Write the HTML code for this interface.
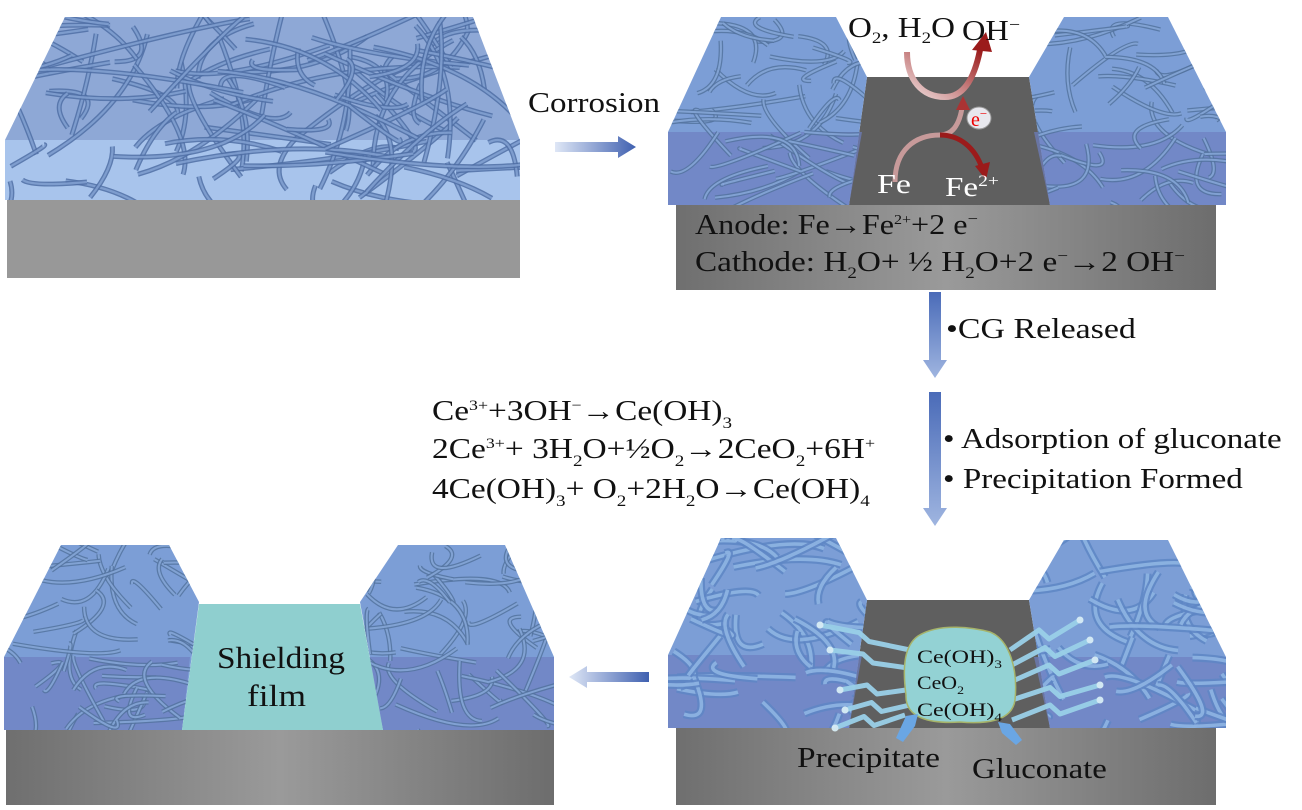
<!DOCTYPE html>
<html><head><meta charset="utf-8"><style>
html,body{margin:0;padding:0;background:#fff;}
svg{display:block;}
text{font-family:"Liberation Serif",serif;fill:#111;}
</style></head><body>
<svg id="s" width="1302" height="810" viewBox="0 0 1302 810" xmlns="http://www.w3.org/2000/svg">
<defs>
<linearGradient id="gsub" x1="0" x2="1" y1="0" y2="0"><stop offset="0" stop-color="#6f6f6f"/><stop offset="0.5" stop-color="#9a9a9a"/><stop offset="1" stop-color="#6d6d6d"/></linearGradient>
<linearGradient id="arrH" x1="0" x2="1"><stop offset="0" stop-color="#dfe7f6"/><stop offset="1" stop-color="#3f60b0"/></linearGradient>
<linearGradient id="arrH2" x1="1" x2="0"><stop offset="0" stop-color="#3f60b0"/><stop offset="1" stop-color="#dfe7f6"/></linearGradient>
<linearGradient id="arrV" x1="0" x2="0" y1="0" y2="1"><stop offset="0" stop-color="#4a6bb8"/><stop offset="1" stop-color="#9fb5e0"/></linearGradient>
<linearGradient id="red1" x1="0" y1="1" x2="1" y2="0"><stop offset="0" stop-color="#f0e0e0"/><stop offset="1" stop-color="#9b1b1b"/></linearGradient>
<clipPath id="c1"><polygon points="65,17 473,17 520,140 520,200 5,200 5,140"/></clipPath>
<clipPath id="c2a"><polygon points="721,17 836,17 867,77 849,205 668,205 668,132"/></clipPath>
<clipPath id="c2b"><polygon points="1064,17 1168,17 1226,132 1226,205 1050,205 1029,77"/></clipPath>
<clipPath id="c3a"><polygon points="721,538 836,538 867,600 849,728 668,728 668,655"/></clipPath>
<clipPath id="c3b"><polygon points="1064,540 1168,540 1226,657 1226,728 1050,728 1029,600"/></clipPath>
<clipPath id="c4a"><polygon points="61,545 169,545 199,602 182,730 4,730 4,657"/></clipPath>
<clipPath id="c4b"><polygon points="398,545 505,545 554,657 554,730 383,730 360,602"/></clipPath>
</defs>

<rect x="7" y="200" width="513" height="78" fill="#989898"/>
<polygon points="65,17 473,17 520,140 5,140" fill="#8ea8d6"/>
<rect x="5" y="140" width="515" height="60" fill="#a8c4ec"/>
<g id="f1" clip-path="url(#c1)"></g>

<text id="t1" x="528" y="112" font-size="28">Corrosion</text>
<polygon points="555,142 618,142 618,136 636,147 618,158 618,152 555,152" fill="url(#arrH)"/>

<rect x="676" y="205" width="540" height="85" fill="url(#gsub)"/>
<polygon points="867,77 1029,77 1050,205 849,205" fill="#5f5f5f"/>
<polygon points="721,17 836,17 867,77 849,205 668,205 668,132" fill="#7c9ed6"/>
<polygon points="668,132 862,132 849,205 668,205" fill="#6d7fc0" opacity="0.7"/>
<polygon points="1064,17 1168,17 1226,132 1226,205 1050,205 1029,77" fill="#7c9ed6"/>
<polygon points="1034,132 1226,132 1226,205 1050,205" fill="#6d7fc0" opacity="0.7"/>
<g id="f2a" clip-path="url(#c2a)"></g>
<g id="f2b" clip-path="url(#c2b)"></g>
<path d="M907,52 C907,80 922,97 945,97 C965,97 975,75 980,50" stroke="url(#red1)" stroke-width="6" fill="none"/>
<polygon points="972,50 986,32 992,52" fill="#9b1b1b"/>
<path d="M895,182 C895,150 915,135 940,135 C955,135 960,120 962,108" stroke="#c79a9a" stroke-width="5" fill="none"/>
<polygon points="956,110 963,96 970,110" fill="#a33"/>
<path d="M940,135 C960,135 975,148 982,168" stroke="#9b1b1b" stroke-width="5" fill="none"/>
<polygon points="975,166 986,180 990,162" fill="#9b1b1b"/>
<ellipse cx="979" cy="118" rx="12" ry="11" fill="#e8e8ee" stroke="#999"/>
<text x="971" y="126" font-size="20" style="fill:#e00">e<tspan dy="-8" font-size="13" style="fill:#e00">−</tspan></text>
<text id="t2" x="848" y="37" font-size="28">O<tspan dy="6" font-size="16">2</tspan><tspan dy="-6">, H</tspan><tspan dy="6" font-size="16">2</tspan><tspan dy="-6">O</tspan></text>
<text id="t3" x="962" y="40" font-size="28">OH<tspan dy="-10" font-size="17">−</tspan></text>
<text id="t4" x="877" y="193" font-size="27" style="fill:#fff">Fe</text>
<text id="t5" x="945" y="196" font-size="27" style="fill:#fff">Fe<tspan dy="-10" font-size="16" style="fill:#fff">2+</tspan></text>
<text id="t6" x="695" y="234" font-size="28">Anode: Fe→Fe<tspan dy="-10" font-size="14">2+</tspan><tspan dy="10">+2 e</tspan><tspan dy="-10" font-size="16">−</tspan></text>
<text id="t7" x="695" y="271" font-size="28">Cathode: H<tspan dy="7" font-size="16">2</tspan><tspan dy="-7">O+ ½ H</tspan><tspan dy="7" font-size="16">2</tspan><tspan dy="-7">O+2 e</tspan><tspan dy="-10" font-size="16">−</tspan><tspan dy="10">→2 OH</tspan><tspan dy="-10" font-size="16">−</tspan></text>

<polygon points="929,292 941,292 941,360 947,360 935,378 923,360 929,360" fill="url(#arrV)"/>
<polygon points="929,392 941,392 941,508 947,508 935,526 923,508 929,508" fill="url(#arrV)"/>
<text id="t8" x="946" y="338" font-size="28">•CG Released</text>
<text id="t9" x="943" y="448" font-size="28">• Adsorption of gluconate</text>
<text id="t10" x="943" y="488" font-size="28">• Precipitation Formed</text>

<text id="t11" x="432" y="420" font-size="28">Ce<tspan dy="-10" font-size="15">3+</tspan><tspan dy="10">+3OH</tspan><tspan dy="-10" font-size="15">−</tspan><tspan dy="10">→Ce(OH)</tspan><tspan dy="8" font-size="16">3</tspan></text>
<text id="t12" x="432" y="458" font-size="28">2Ce<tspan dy="-10" font-size="15">3+</tspan><tspan dy="10">+ 3H</tspan><tspan dy="8" font-size="16">2</tspan><tspan dy="-8">O+½O</tspan><tspan dy="8" font-size="16">2</tspan><tspan dy="-8">→2CeO</tspan><tspan dy="8" font-size="16">2</tspan><tspan dy="-8">+6H</tspan><tspan dy="-10" font-size="15">+</tspan></text>
<text id="t13" x="432" y="498" font-size="28">4Ce(OH)<tspan dy="8" font-size="16">3</tspan><tspan dy="-8">+ O</tspan><tspan dy="8" font-size="16">2</tspan><tspan dy="-8">+2H</tspan><tspan dy="8" font-size="16">2</tspan><tspan dy="-8">O→Ce(OH)</tspan><tspan dy="8" font-size="16">4</tspan></text>

<rect x="676" y="728" width="540" height="77" fill="url(#gsub)"/>
<polygon points="867,600 1029,600 1050,728 849,728" fill="#5f5f5f"/>
<polygon points="721,538 836,538 867,600 849,728 668,728 668,655" fill="#7c9ed6"/>
<polygon points="668,655 862,655 849,728 668,728" fill="#6d7fc0" opacity="0.7"/>
<polygon points="1064,540 1168,540 1226,657 1226,728 1050,728 1029,600" fill="#7c9ed6"/>
<polygon points="1034,657 1226,657 1226,728 1050,728" fill="#6d7fc0" opacity="0.7"/>
<g id="f3a" clip-path="url(#c3a)"></g>
<g id="f3b" clip-path="url(#c3b)"></g>
<g id="tent" stroke="#9ad0e8" stroke-width="5" fill="none" stroke-linejoin="round" opacity="0.95"></g>
<path d="M918,636 C940,622 975,628 990,632 C1010,640 1018,670 1015,700 C1012,722 985,724 960,722 C930,724 905,718 906,695 C902,665 905,645 918,636 Z" fill="#93d2d4" stroke="#a6b36a" stroke-width="1.5"/>
<text id="t14" x="917" y="663" font-size="19">Ce(OH)<tspan dy="5" font-size="12">3</tspan></text>
<text id="t15" x="917" y="689" font-size="19">CeO<tspan dy="5" font-size="12">2</tspan></text>
<text id="t16" x="917" y="716" font-size="19">Ce(OH)<tspan dy="5" font-size="12">4</tspan></text>
<polygon points="903,742 915,726 918,714 906,716 896,738" fill="#6aa6e4"/>
<polygon points="1016,745 1002,733 998,722 1010,724 1022,740" fill="#6aa6e4"/>
<text id="t17" x="797" y="767" font-size="28">Precipitate</text>
<text id="t18" x="972" y="778" font-size="28">Gluconate</text>

<polygon points="649,672 587,672 587,666 569,677 587,688 587,682 649,682" fill="url(#arrH2)"/>

<rect x="6" y="730" width="548" height="75" fill="url(#gsub)"/>
<polygon points="61,545 169,545 199,602 182,730 4,730 4,657" fill="#7c9ed6"/>
<polygon points="4,657 190,657 182,730 4,730" fill="#6d7fc0" opacity="0.7"/>
<polygon points="398,545 505,545 554,657 554,730 383,730 360,602" fill="#7c9ed6"/>
<polygon points="366,657 554,657 554,730 383,730" fill="#6d7fc0" opacity="0.7"/>
<g id="f4a" clip-path="url(#c4a)"></g>
<g id="f4b" clip-path="url(#c4b)"></g>
<polygon points="199,604 360,604 383,730 182,730" fill="#8fcfcf"/>
<text id="t19" x="217" y="668" font-size="31">Shielding</text>
<text id="t20" x="247" y="706" font-size="31">film</text>
</svg>
<script>
(function(){
var seed=7;function r(){seed=(seed*16807)%2147483647;return (seed-1)/2147483646;}
var NS="http://www.w3.org/2000/svg";
function fib(id,x0,y0,x1,y1,n,w,col,inner){
 var g=document.getElementById(id);
 for(var i=0;i<n;i++){
  var ax=x0+r()*(x1-x0),ay=y0+r()*(y1-y0);
  var ang=r()*Math.PI*2,len=40+r()*((x1-x0)*0.4);
  var bx=ax+Math.cos(ang)*len,by=ay+Math.sin(ang)*len*0.6;
  var cx=(ax+bx)/2+(r()-0.5)*80,cy=(ay+by)/2+(r()-0.5)*60;
  var d="M"+ax.toFixed(1)+","+ay.toFixed(1)+" Q"+cx.toFixed(1)+","+cy.toFixed(1)+" "+bx.toFixed(1)+","+by.toFixed(1);
  var p=document.createElementNS(NS,"path");p.setAttribute("d",d);p.setAttribute("stroke",col);p.setAttribute("stroke-width",w);p.setAttribute("fill","none");p.setAttribute("opacity","0.85");g.appendChild(p);
  var q=document.createElementNS(NS,"path");q.setAttribute("d",d);q.setAttribute("stroke",inner);q.setAttribute("stroke-width",w*0.45);q.setAttribute("fill","none");q.setAttribute("opacity","0.75");g.appendChild(q);
 }
}
fib("f1",10,20,515,195,110,5,"#4f6fa5","#8aa8d8");
fib("f2a",668,17,865,205,50,4.5,"#54739f","#8fb0e2");
fib("f2b",1030,17,1226,205,50,4.5,"#54739f","#8fb0e2");
fib("f3a",668,538,865,728,45,8,"#5e86c4","#98bde8");
fib("f3b",1030,540,1226,728,45,8,"#5e86c4","#98bde8");
fib("f4a",4,545,200,730,50,4.5,"#54739f","#8fb0e2");
fib("f4b",360,545,554,730,50,4.5,"#54739f","#8fb0e2");
var t=document.getElementById("tent");
var L=[[820,625,910,650],[830,650,908,668],[840,690,906,690],[845,710,910,705],[835,728,905,715]];
var R=[[1010,650,1080,620],[1012,665,1090,640],[1015,680,1095,660],[1012,700,1100,685],[1012,720,1100,700]];
L.concat(R).forEach(function(a){var p=document.createElementNS(NS,"path");
 var mx=(a[0]+a[2])/2,my=(a[1]+a[3])/2;
 p.setAttribute("d","M"+a[0]+","+a[1]+" L"+(mx-6)+","+(my-5)+" L"+(mx+4)+","+(my+4)+" L"+a[2]+","+a[3]);t.appendChild(p);
 var c=document.createElementNS(NS,"circle");c.setAttribute("cx",a[a[0]<900?0:2]);c.setAttribute("cy",a[a[0]<900?1:3]);c.setAttribute("r",3.5);c.setAttribute("fill","#d8eef6");c.setAttribute("stroke","none");t.appendChild(c);});
var W={t1:132,t2:107,t3:58,t4:34,t5:54,t6:283,t7:490,t8:190,t9:339,t10:300,t11:300,t12:443,t13:438,t14:85,t15:47,t16:85,t17:143,t18:135,t19:128,t20:59};
for(var k in W){var e=document.getElementById(k);var bb=e.getBBox();var s=W[k]/bb.width;var x=parseFloat(e.getAttribute("x"));
 e.setAttribute("transform","translate("+x+",0) scale("+s.toFixed(3)+",1) translate("+(-x)+",0)");}
})();
</script>
</body></html>
